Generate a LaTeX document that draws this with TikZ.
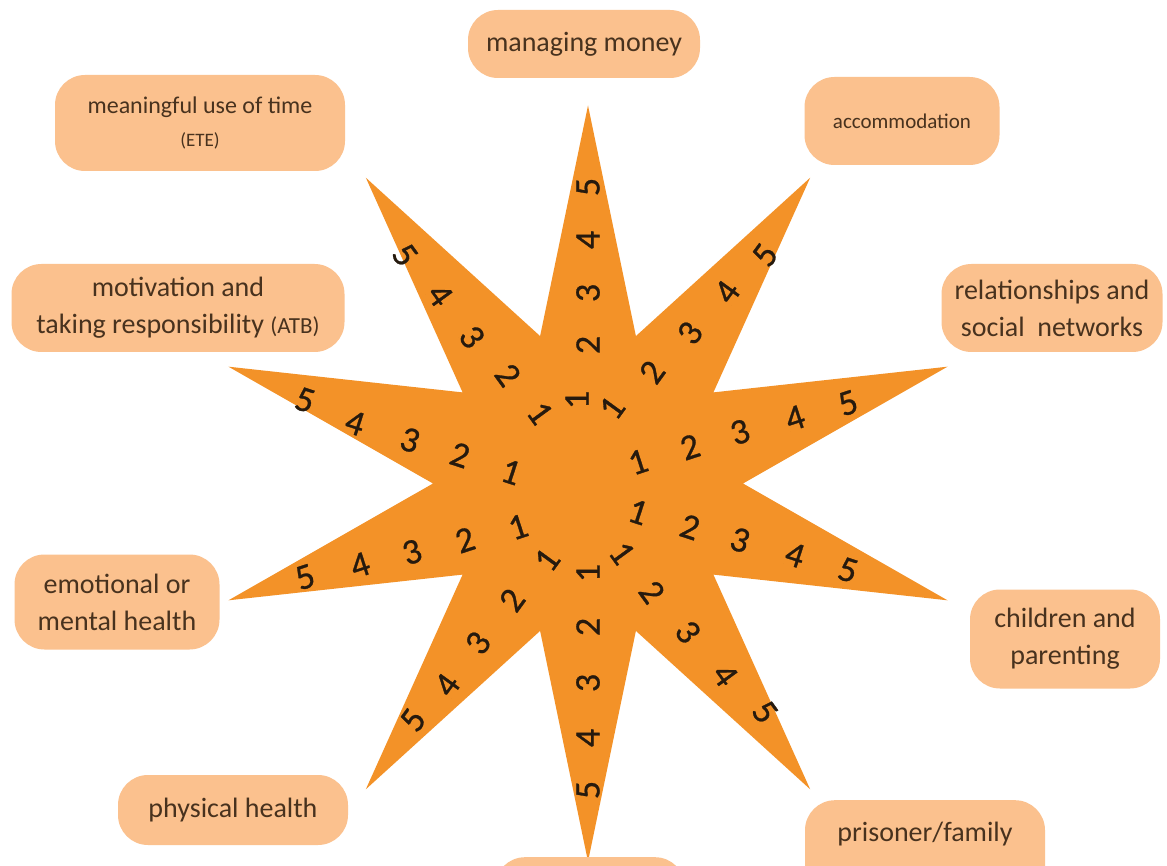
\documentclass[tikz,border=0pt]{standalone}
\usepackage{fontspec}
\setmainfont{Carlito}
\newfontfamily\digfont{Carlito}[FakeBold=0.8]
\definecolor{starorange}{RGB}{243,146,40}
\definecolor{boxorange}{RGB}{251,193,142}
\definecolor{txtbrown}{RGB}{72,50,30}
\definecolor{digitdark}{RGB}{38,26,14}
\begin{document}
\begin{tikzpicture}[x=1pt,y=-1pt,
  lbl/.style={rectangle, rounded corners=30pt, fill=boxorange, text=txtbrown,
    align=center, inner sep=0pt, font=\fontsize{28}{37}\selectfont},
  dig/.style={text=digitdark, inner sep=0pt, font=\digfont\fontsize{36}{36}\selectfont}]
\useasboundingbox (0,0) rectangle (1167,866);
\fill[white] (0,0) rectangle (1167,866);
% star
\begin{scope}[shift={(588,483.5)}]
\fill[starorange] (90:378) \foreach \i in {0,...,9}{ -- ({72-36*\i}:155) -- ({54-36*\i}:378)} -- cycle;
\end{scope}
% labels
\node[lbl, minimum width=232pt, minimum height=68pt] (mm) at (584,44) {managing money};
\node[lbl, minimum width=290pt, minimum height=96pt, font=\fontsize{24}{33}\selectfont] (mut) at (200,123) {meaningful use of time\\{\fontsize{19}{20}\selectfont(ETE)}};
\node[lbl, minimum width=195pt, minimum height=88pt, font=\fontsize{21}{28}\selectfont] (acc) at (902,121) {accommodation};
\node[lbl, minimum width=333pt, minimum height=88pt] (mot) at (178,308) {motivation and\\taking responsibility {\fontsize{23}{24}\selectfont(ATB)}};
\node[lbl, minimum width=221pt, minimum height=88pt] (rel) at (1052,308) {relationships and\\social\ \ networks};
\node[lbl, minimum width=205pt, minimum height=95pt] (emo) at (117,602) {emotional or\\mental health};
\node[lbl, minimum width=190pt, minimum height=99pt] (chi) at (1065,639) {children and\\parenting};
\node[lbl, minimum width=230pt, minimum height=70pt] (phy) at (233,810) {physical health};
\begin{scope}
\clip (0,0) rectangle (1167,866);
\node[lbl, minimum width=240pt, minimum height=100pt, anchor=north] (pri) at (925,800) {prisoner/family\\\phantom{contact}};
\node[lbl, minimum width=190pt, minimum height=80pt, anchor=north] (bot) at (590,857) {};
\end{scope}
% digits
\foreach \n/\x/\y in {1/577/400,2/588/345,3/588/293,4/588/240,5/588/187}
  \node[dig, rotate=90] (t\n) at (\x,\y) {\n};
\foreach \n/\x/\y in {1/612/408,2/652/372,3/690/333,4/727/292,5/765/255}
  \node[dig, rotate=54] (ur\n) at (\x,\y) {\n};
\foreach \n/\x/\y in {1/638/462,2/690/447,3/740/432,4/795/418,5/848/403}
  \node[dig, rotate=18] (ru\n) at (\x,\y) {\n};
\foreach \n/\x/\y in {1/638/512,2/690/527,3/740/540,4/795/555,5/848/570}
  \node[dig, rotate=-18] (rl\n) at (\x,\y) {\n};
\foreach \n/\x/\y in {1/622/553,2/652/592,3/688/632,4/725/675,5/765/712}
  \node[dig, rotate=-54] (lr\n) at (\x,\y) {\n};
\foreach \n/\x/\y in {1/588/573,2/588/627,3/588/683,4/588/738,5/588/790}
  \node[dig, rotate=90] (b\n) at (\x,\y) {\n};
\foreach \n/\x/\y in {1/547/560,2/512/600,3/478/643,4/447/685,5/413/720}
  \node[dig, rotate=54] (ll\n) at (\x,\y) {\n};
\foreach \n/\x/\y in {1/518/527,2/465/540,3/412/552,4/360/565,5/305/577}
  \node[dig, rotate=18] (llo\n) at (\x,\y) {\n};
\foreach \n/\x/\y in {1/511/472,2/460/455,3/410/440,4/355/423,5/305/400}
  \node[dig, rotate=-18] (lu\n) at (\x,\y) {\n};
\foreach \n/\x/\y in {1/540/413,2/508/375,3/472/337,4/440/295,5/405/255}
  \node[dig, rotate=-54] (ul\n) at (\x,\y) {\n};
\end{tikzpicture}
\end{document}
